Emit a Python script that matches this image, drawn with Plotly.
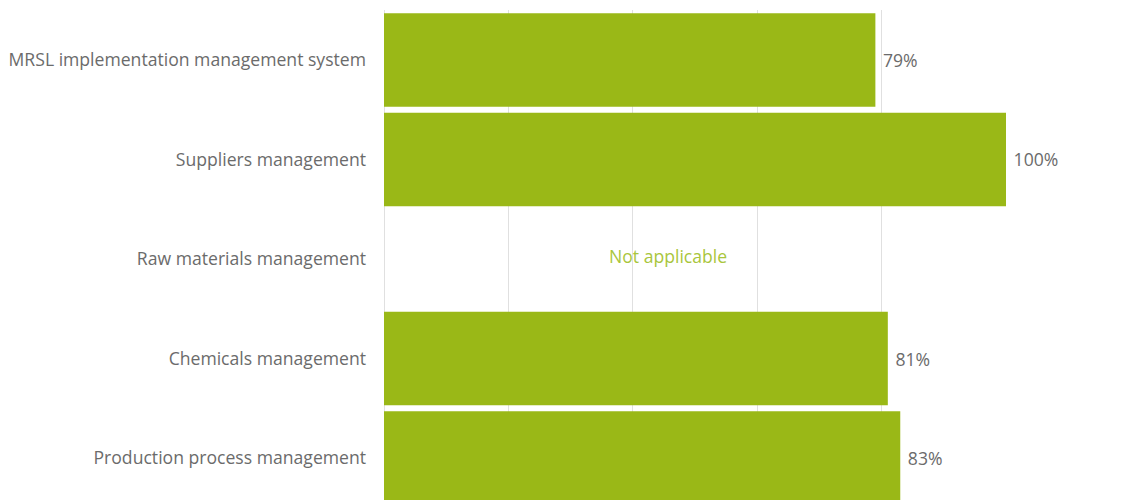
import plotly.graph_objects as go

categories = [
    "MRSL implementation management system",
    "Suppliers management",
    "Raw materials management",
    "Chemicals management",
    "Production process management",
]
values = [79, 100, None, 81, 83]
value_labels = ["79%", "100%", "", "81%", "83%"]
na_category = "Raw materials management"
na_text = "Not applicable"
na_x = 45.7
x_ticks = [0, 20, 40, 60, 80, 100]

FONT = "'Open Sans', sans-serif"
FS = 17.6
GREEN = "#9AB817"
GRAY = "#6b6b6b"

fig = go.Figure()
fig.add_trace(go.Bar(
    y=categories,
    x=values,
    orientation="h",
    marker=dict(color=GREEN, line=dict(width=0)),
    text=[" " + t if t else t for t in value_labels],
    textposition="outside",
    textfont=dict(family=FONT, size=FS, color=GRAY),
    cliponaxis=False,
    hoverinfo="skip",
))

fig.add_annotation(
    x=na_x, y=na_category, xref="x", yref="y",
    text=na_text, showarrow=False,
    font=dict(family=FONT, size=FS, color="#A9C63C"),
    yshift=3,
)

fig.update_layout(
    width=1121, height=500,
    margin=dict(l=376, r=123, t=2, b=0),
    paper_bgcolor="white", plot_bgcolor="white",
    bargap=0.06,
    showlegend=False,
    font=dict(family=FONT, size=FS, color=GRAY),
)
fig.update_xaxes(
    range=[0, 100], tickvals=x_ticks, showticklabels=False,
    showgrid=True, gridcolor="#e0e0e0", gridwidth=1,
    zeroline=True, zerolinecolor="#e0e0e0", zerolinewidth=1,
    showline=False,
)
fig.update_yaxes(
    categoryorder="array", categoryarray=categories,
    range=[4.5025, -0.5025],
    showgrid=False, zeroline=False, showline=False,
    ticks="", ticklabelstandoff=17,
    tickfont=dict(family=FONT, size=FS, color=GRAY),
)

fig.write_html("out.html")
